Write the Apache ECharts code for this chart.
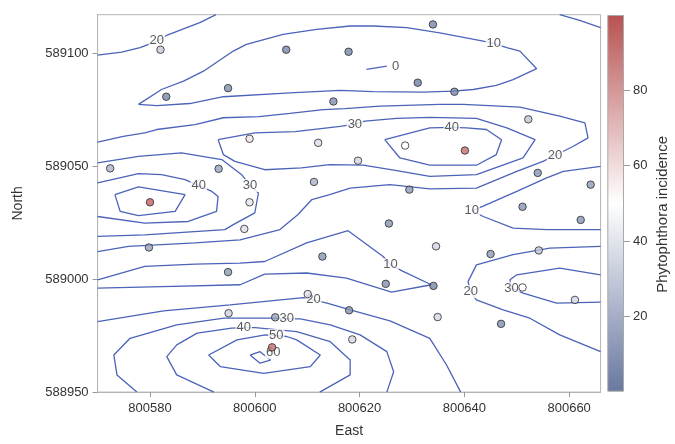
<!DOCTYPE html>
<html><head><meta charset="utf-8">
<script src="https://cdn.jsdelivr.net/npm/echarts@6/dist/echarts.min.js"></script>
<style>html,body{margin:0;padding:0;background:#fff}#c{width:675px;height:444px}</style>
</head><body><div id="c"></div>
<script>
// ---- data (East, North, Phytophthora incidence) ----
const pointEast = [800582.0, 800583.1, 800594.9, 800606.0, 800617.9, 800615.0, 800599.0, 800612.1, 800572.4, 800593.1, 800611.3, 800580.0, 800599.0, 800634.0, 800631.1, 800638.1, 800652.2, 800628.7, 800640.1, 800619.7, 800654.0, 800664.1, 800629.5, 800651.1, 800598.0, 800579.8, 800612.9, 800594.9, 800610.1, 800618.0, 800595.0, 800603.9, 800618.6, 800603.3, 800662.2, 800625.6, 800634.6, 800645.0, 800654.2, 800625.0, 800634.1, 800634.9, 800651.1, 800661.1, 800647.0];
const pointNorth = [589101.5, 589080.7, 589084.5, 589101.5, 589100.6, 589078.6, 589062.1, 589060.3, 589049.0, 589048.8, 589043.0, 589034.0, 589034.0, 589112.7, 589086.9, 589082.9, 589070.7, 589059.1, 589056.9, 589052.4, 589047.0, 589041.8, 589039.6, 589032.0, 589022.2, 589014.0, 589010.0, 589003.1, 588993.4, 588986.2, 588984.9, 588983.1, 588973.3, 588969.8, 589026.2, 589024.6, 589014.5, 589011.1, 589012.7, 588997.9, 588997.0, 588983.2, 588996.3, 588990.8, 588980.2];
const pointValue = [30, 5, 8, 5, 5, 8, 58, 38, 22, 15, 22, 95, 40, 5, 3, 5, 28, 50, 92, 35, 10, 12, 12, 10, 38, 15, 10, 12, 38, 10, 33, 15, 35, 92, 10, 10, 35, 12, 28, 8, 5, 35, 50, 35, 8];

// contour lines [East, North]
const c20TopLeft = [[800570.0,589099.1],[800574.6,589100.4],[800578.1,589102.4],[800581.3,589105.2],[800583.3,589108.0],[800587.0,589111.3],[800589.5,589113.5],[800592.6,589117]];
const c20TopRight = [[800658.2,589117],[800662.0,589114.5],[800666,589111.3]];
const c10Top = [[800577.8,589077.3],[800582.2,589083.9],[800586.4,589087.6],[800590.2,589092.0],[800595.9,589100.9],[800598.4,589103.9],[800605.4,589108.3],[800611.8,589110.5],[800618.2,589112.0],[800622.6,589112.0],[800629.0,589111.3],[800635.3,589109.0],[800643.6,589105.3],[800645.6,589104.3],[800648.1,589102.4],[800650.6,589100.9],[800653.8,589093.1],[800649.3,589088.3],[800646.1,589085.7],[800641.7,589083.9],[800637.9,589083.2],[800632.1,589082.7],[800622.6,589083.0],[800616.3,589083.5],[800606.7,589082.4],[800594.0,589080.7],[800587.6,589077.7],[800581.3,589076.8],[800577.8,589077.3]];
const c0Top = [[800621.3,589092.8],[800625.2,589094.2],[800625.2,589093.5],[800621.3,589092.8]];
const c20Main = [[800570.0,589060.6],[800574.9,589063.2],[800579.0,589064.7],[800581.3,589066.2],[800588.6,589068.4],[800594.0,589071.4],[800600.8,589071.9],[800606.7,589073.3],[800613.1,589075.0],[800617.2,589075.4],[800623.9,589076.5],[800635.3,589077.3],[800639.8,589077.3],[800650.6,589076.1],[800658.2,589072.1],[800663.0,589069.1],[800663.6,589062.5],[800660.8,589058.8],[800657.3,589054.7],[800655.0,589052.1],[800650.0,589047.7],[800642.3,589040.3],[800633.4,589039.9],[800625.8,589041.8],[800618.2,589040.3],[800614.3,589037.4],[800610.9,589035.2],[800608.2,589028.5],[800604.8,589021.9],[800597.2,589017.4],[800588.6,589016.0],[800575.9,589014.5],[800570.0,589012.2]];
const c30Upper = [[800593.0,589061.7],[800600.0,589064.7],[800607.7,589065.3],[800616.3,589067.6],[800619.1,589068.6],[800621.0,589069.9],[800627.1,589071.1],[800633.4,589071.6],[800642.3,589071.1],[800648.1,589066.9],[800653.5,589061.7],[800651.2,589053.6],[800642.3,589046.2],[800633.4,589045.5],[800627.1,589048.0],[800620.7,589050.4],[800614.3,589050.7],[800608.9,589049.2],[800601.9,589048.4],[800596.2,589052.1],[800594.0,589055.1],[800593.0,589061.7]];
const c40Upper = [[800624.8,589061.7],[800633.4,589066.9],[800637.6,589067.1],[800640.4,589066.9],[800644.2,589066.2],[800647.1,589061.7],[800646.1,589055.1],[800642.3,589050.4],[800633.4,589050.4],[800627.7,589053.6],[800624.8,589061.7]];
const c30Left = [[800570.0,589051.4],[800577.8,589054.3],[800586.0,589055.9],[800593.7,589052.9],[800597.5,589046.2],[800599.1,589041.4],[800600.7,589038.1],[800600.0,589029.3],[800595.9,589024.1],[800594.3,589021.9],[800579.0,589019.6],[800570.0,589018.9]];
const c40Left = [[800570.0,589042.6],[800577.8,589046.7],[800582.2,589046.2],[800586.7,589044.0],[800589.3,589041.4],[800591.8,589038.8],[800593.0,589036.5],[800592.7,589030.0],[800587.3,589025.5],[800579.0,589024.8],[800570.0,589027.7]];
const c50Left = [[800573.3,589037.4],[800577.8,589040.8],[800586.7,589037.4],[800584.8,589030.0],[800577.8,589028.1],[800574.3,589030.0],[800573.3,589037.4]];
const c10Middle = [[800570.0,588999.7],[800579.0,589005.6],[800588.6,589006.6],[800597.2,589007.1],[800601.9,589007.8],[800609.9,589016.0],[800617.8,589021.4],[800624.5,589010.0],[800625.9,589006.3],[800628.3,589003.4],[800633.7,588997.5],[800626.1,588994.2],[800617.5,589000.4],[800609.9,589002.7],[800601.9,589002.2],[800597.2,588997.5],[800582.3,588996.7],[800570.0,588996.0]];
const c20Lower = [[800570.0,588981.2],[800582.6,588985.9],[800595.3,588988.6],[800609.3,588991.8],[800611.2,588990.8],[800613.8,588989.4],[800618.2,588986.4],[800625.8,588981.5],[800633.4,588973.8],[800636.6,588962.0],[800639.3,588950]];
const c30Lower = [[800577.5,588950],[800573.7,588957.6],[800573.1,588966.4],[800576.2,588973.8],[800585.1,588979.7],[800594.1,588982.7],[800603.6,588982.7],[800606.1,588982.4],[800608.7,588982.4],[800614.4,588979.7],[800620.1,588975.3],[800625.2,588967.9],[800626.5,588959.0],[800625.2,588950]];
const c40Lower = [[800592.2,588950],[800585.1,588957.6],[800583.2,588965.7],[800585.1,588970.9],[800589.0,588976.1],[800595.6,588978.3],[800597.9,588978.5],[800600.1,588978.5],[800608.0,588976.8],[800614.4,588972.3],[800618.2,588964.2],[800618.2,588957.6],[800612.4,588950]];
const c50Lower = [[800602.0,588975.3],[800596.6,588973.1],[800591.2,588966.4],[800593.4,588961.3],[800601.7,588958.3],[800610.6,588961.3],[800612.5,588966.4],[800608.0,588973.1],[800606.1,588974.6],[800604.1,588975.0],[800602.0,588975.3]];
const c60Lower = [[800599.1,588966.4],[800601.0,588967.9],[800603.0,588964.2],[800601.0,588962.8],[800599.1,588966.4]];
const c10Right = [[800666,589049.9],[800658.9,589047.7],[800655.7,589044.8],[800650.0,589038.8],[800643.6,589032.3],[800641.4,589030.3],[800643.6,589027.7],[800649.3,589022.6],[800655.7,589021.9],[800666,589021.9]];
const c20Right = [[800666,589014.5],[800656.3,589013.7],[800649.3,589010.8],[800642.3,589006.3],[800640.7,588998.9],[800641.2,588994.5],[800642.3,588990.8],[800647.4,588986.4],[800652.5,588982.7],[800658.2,588975.3],[800666,588967.9]];
const c30Right = [[800666,589001.9],[800658.2,589004.9],[800650.0,589001.9],[800648.7,588999.7],[800649.0,588996.0],[800651.2,588993.8],[800657.6,588989.4],[800666,588989.8]];

// contour labels
const labelEast  = [800581.3, 800645.6, 800626.9, 800619.1, 800637.6, 800657.3, 800589.3, 800599.1, 800641.4, 800625.9, 800611.2, 800641.2, 800649.0, 800606.1, 800597.9, 800604.1, 800603.5];
const labelNorth = [589105.6, 589104.3, 589094.0, 589068.6, 589067.1, 589054.7, 589041.4, 589041.4, 589030.3, 589006.3, 588990.8, 588994.5, 588996.0, 588982.4, 588978.5, 588975.0, 588967.6];
const labelText  = ['20', '10', '0', '30', '40', '20', '40', '30', '10', '10', '20', '20', '30', '30', '40', '50', '60'];

// tick labels
const eastTicks = [800580, 800600, 800620, 800640, 800660];
const northTicks = [588950, 589000, 589050, 589100];
const colorTicks = [20, 40, 60, 80];

// ---- chart ----
const FONT = 'Liberation Sans, Arial, sans-serif';
const LOW = '#6878a0', MID = '#ffffff', HIGH = '#b75251';
const contours = [c20TopLeft, c20TopRight, c10Top, c0Top, c20Main, c30Upper, c40Upper, c30Left, c40Left, c50Left, c10Middle, c20Lower, c30Lower, c40Lower, c50Lower, c60Lower, c10Right, c20Right, c30Right];

const series = contours.map(c => ({
  type: 'line', data: c, xAxisIndex: 0, yAxisIndex: 0,
  showSymbol: false, symbol: 'none', silent: true, clip: true, z: 2,
  lineStyle: { color: '#4b63b9', width: 1.3 }
}));
series.push({
  type: 'scatter', xAxisIndex: 0, yAxisIndex: 0, z: 3, silent: true,
  data: labelEast.map((e, i) => [e, labelNorth[i], labelText[i]]),
  symbol: 'circle', symbolSize: 1, itemStyle: { color: 'rgba(0,0,0,0)' },
  label: { show: true, position: 'inside', formatter: p => p.value[2],
    color: '#333', fontSize: 13, fontFamily: FONT, backgroundColor: '#fff', padding: [0, 1] }
});
series.push({
  type: 'scatter', xAxisIndex: 0, yAxisIndex: 0, z: 4, silent: true,
  data: pointEast.map((e, i) => [e, pointNorth[i], pointValue[i]]),
  symbol: 'circle', symbolSize: 7.5,
  itemStyle: { borderColor: '#2b2b2b', borderWidth: 1 }
});
series.push({
  type: 'bar', xAxisIndex: 1, yAxisIndex: 1, data: [100], barWidth: '100%', silent: true,
  itemStyle: { borderColor: '#a9a9a9', borderWidth: 1,
    color: { type: 'linear', x: 0, y: 0, x2: 0, y2: 1,
      colorStops: [{ offset: 0, color: HIGH }, { offset: 0.5, color: MID }, { offset: 1, color: LOW }] } }
});

const axisLabelStyle = { color: '#333', fontSize: 13, fontFamily: FONT, formatter: v => String(v) };
const chart = echarts.init(document.getElementById('c'), null, { renderer: 'canvas' });
chart.setOption({
  animation: false,
  backgroundColor: '#fff',
  visualMap: { show: false, type: 'continuous', seriesIndex: contours.length + 1, dimension: 2,
    min: 0, max: 100, inRange: { color: [LOW, MID, HIGH] } },
  grid: [
    { left: 97.6, top: 14.7, width: 503, height: 377.4, show: true, borderColor: '#b4b4b4', borderWidth: 1, backgroundColor: 'transparent' },
    { left: 607.3, top: 15, width: 16.7, height: 376.7 }
  ],
  xAxis: [
    { type: 'value', gridIndex: 0, min: 800570, max: 800666,
      name: 'East', nameLocation: 'middle', nameGap: 32,
      nameTextStyle: { color: '#333', fontSize: 14, fontFamily: FONT },
      axisLine: { lineStyle: { color: '#b4b4b4' } },
      axisTick: { show: true, length: 5, customValues: eastTicks, lineStyle: { color: '#999' } },
      axisLabel: Object.assign({ customValues: eastTicks, margin: 10 }, axisLabelStyle),
      splitLine: { show: false } },
    { type: 'category', gridIndex: 1, data: ['c'], show: false, boundaryGap: true }
  ],
  yAxis: [
    { type: 'value', gridIndex: 0, min: 588950, max: 589117,
      name: 'North', nameLocation: 'middle', nameGap: 72, nameRotate: 90,
      nameTextStyle: { color: '#333', fontSize: 14, fontFamily: FONT },
      axisLine: { show: true, lineStyle: { color: '#b4b4b4' } },
      axisTick: { show: true, length: 5, customValues: northTicks, lineStyle: { color: '#999' } },
      axisLabel: Object.assign({ customValues: northTicks, margin: 9 }, axisLabelStyle),
      splitLine: { show: false } },
    { type: 'value', gridIndex: 1, min: 0, max: 100, position: 'right',
      name: 'Phytophthora incidence', nameLocation: 'middle', nameGap: 31, nameRotate: 90,
      nameTextStyle: { color: '#333', fontSize: 15, fontFamily: FONT, padding: [0, 22, 0, 0] },
      axisLine: { show: false },
      axisTick: { show: true, length: 6, customValues: colorTicks, lineStyle: { color: '#999' } },
      axisLabel: Object.assign({ customValues: colorTicks, margin: 9 }, axisLabelStyle),
      splitLine: { show: false } }
  ],
  series: series
});
</script></body></html>
